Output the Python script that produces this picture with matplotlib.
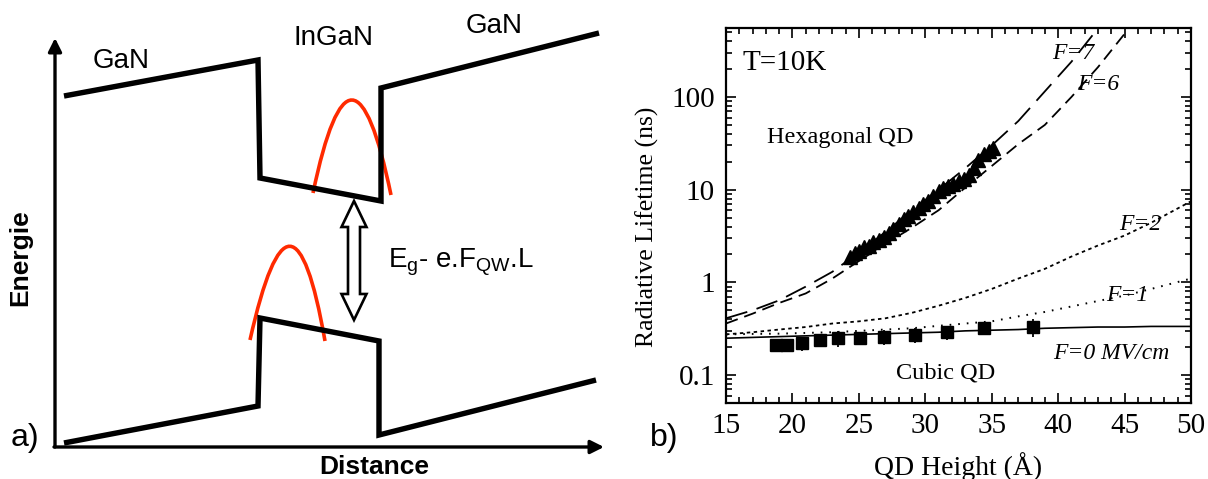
import matplotlib
matplotlib.use("Agg")
import matplotlib.pyplot as plt
from matplotlib.path import Path
from matplotlib.patches import PathPatch, Polygon
from matplotlib.ticker import MultipleLocator, LogLocator, NullFormatter

plt.rcParams['mathtext.fontset'] = 'custom'
plt.rcParams['mathtext.rm'] = 'Liberation Sans'
plt.rcParams['mathtext.it'] = 'Liberation Sans:italic'
plt.rcParams['lines.scale_dashes'] = False

# ---- panel a) : band diagram, in picture pixels (x right, y down) ----
cb_x = [64, 258, 260, 381, 381, 599]
cb_y = [96, 60, 178, 201, 88, 33]
vb_x = [64, 258, 260, 379, 379, 596]
vb_y = [443, 406, 318, 341, 435, 380]
# wavefunctions: start, control, end of a quadratic curve
elec_arc = [(313, 193), (352, 6), (391, 195)]
hole_arc = [(250, 340), (292, 152), (325, 341)]
# double arrow between the two levels: x, top tip, bottom tip
gap_arrow = (354, 201, 320)

# ---- panel b) : radiative lifetime vs QD height ----
height_grid = [15, 17, 19, 21, 23, 25, 27, 29, 31, 33, 35, 37, 39, 41, 43, 45, 47, 50]
tau_f0 = [0.25, 0.255, 0.26, 0.265, 0.27, 0.275, 0.28, 0.285, 0.29, 0.30, 0.305, 0.31, 0.32, 0.325, 0.33, 0.33, 0.335, 0.335]
tau_f1 = [0.275, 0.278, 0.28, 0.285, 0.29, 0.30, 0.31, 0.32, 0.34, 0.36, 0.38, 0.43, 0.48, 0.55, 0.63, 0.72, 0.85, 1.1]
tau_f2 = [0.275, 0.29, 0.31, 0.33, 0.36, 0.38, 0.41, 0.47, 0.56, 0.68, 0.85, 1.1, 1.4, 1.9, 2.5, 3.2, 4.4, 7.5]

h_f6 = [15, 17, 19, 21, 23, 25, 27, 29, 31, 33, 35, 37, 39, 41, 43, 45]
tau_f6 = [0.36, 0.46, 0.60, 0.76, 1.1, 1.7, 2.6, 3.9, 6.0, 10.5, 18, 31, 50, 100, 210, 480]
h_f7 = [15, 17, 19, 21, 23, 25, 27, 29, 31, 33, 35, 37, 39, 41, 43]
tau_f7 = [0.41, 0.50, 0.64, 0.90, 1.3, 2.1, 3.5, 6.0, 10, 17, 30, 55, 115, 240, 550]

hex_h = [24.3, 24.7, 25.0, 25.4, 25.8, 26.1, 26.5, 26.9, 27.3, 27.6, 28.0, 28.4, 28.7, 29.1, 29.5,
         29.8, 30.2, 30.6, 31.0, 31.3, 31.7, 32.1, 32.5, 32.9, 33.3, 33.7, 34.0, 34.4, 34.8, 35.1]
hex_tau = [1.9, 2.1, 2.2, 2.4, 2.5, 2.7, 2.9, 3.1, 3.4, 3.8, 4.3, 4.8, 5.2, 5.8, 6.3,
           7.0, 7.6, 8.5, 9.8, 10.5, 11.0, 11.5, 12.5, 13.0, 14.5, 17.0, 21.0, 24.0, 26.0, 28.0]

cub_h = [18.8, 19.6, 20.7, 22.1, 23.4, 25.1, 26.9, 29.2, 31.6, 34.4, 38.1]
cub_tau = [0.21, 0.21, 0.22, 0.24, 0.25, 0.25, 0.26, 0.27, 0.29, 0.32, 0.33]
cub_err = [0.03, 0.03, 0.04, 0.04, 0.05, 0.04, 0.05, 0.05, 0.05, 0.05, 0.07]

y_ticks = [0.1, 1, 10, 100]
y_ticklabels = ['0.1', '1', '10', '100']
x_ticks = [15, 20, 25, 30, 35, 40, 45, 50]

W, H = 1208, 479
fig = plt.figure(figsize=(W / 100, H / 100), dpi=100)

# ================= panel a =================
axa = fig.add_axes([0, 0, 604 / W, 1])
axa.set_xlim(0, 604)
axa.set_ylim(H, 0)
axa.axis('off')

arrow_kw = dict(arrowstyle='-|>', color='black', lw=2.4, mutation_scale=20, shrinkA=0, shrinkB=0)
axa.annotate('', xy=(55, 38), xytext=(55, 447), arrowprops=arrow_kw)
axa.annotate('', xy=(604, 447), xytext=(54, 447), arrowprops=arrow_kw)

axa.plot(cb_x, cb_y, color='black', lw=3.9, solid_joinstyle='miter', solid_capstyle='butt')
axa.plot(vb_x, vb_y, color='black', lw=3.9, solid_joinstyle='miter', solid_capstyle='butt')

for arc in (elec_arc, hole_arc):
    p = Path(arc, [Path.MOVETO, Path.CURVE3, Path.CURVE3])
    axa.add_patch(PathPatch(p, facecolor='none', edgecolor='#ff2a00', lw=2.6))

# hollow double arrow
ax_x, top, bot = gap_arrow
hw, sw, hl = 12.5, 6, 26
arrow_pts = [(ax_x, top), (ax_x + hw, top + hl), (ax_x + sw, top + hl), (ax_x + sw, bot - hl),
             (ax_x + hw, bot - hl), (ax_x, bot), (ax_x - hw, bot - hl), (ax_x - sw, bot - hl),
             (ax_x - sw, top + hl), (ax_x - hw, top + hl)]
axa.add_patch(Polygon(arrow_pts, closed=True, facecolor='white', edgecolor='black', lw=1.9,
                      joinstyle='miter'))

sans = 'Liberation Sans'
axa.text(121, 61, 'GaN', fontsize=20, family=sans, ha='center', va='center')
axa.text(333, 38, 'InGaN', fontsize=20, family=sans, ha='center', va='center')
axa.text(494, 26, 'GaN', fontsize=20, family=sans, ha='center', va='center')
axa.text(388, 262, r'E$_\mathrm{g}$- e.F$_\mathrm{QW}$.L', fontsize=20, family=sans,
         ha='left', va='center')
axa.text(20, 258, 'Energie', fontsize=19, family=sans, fontweight='bold', rotation=90,
         ha='center', va='center')
axa.text(374, 467, 'Distance', fontsize=19, family=sans, fontweight='bold',
         ha='center', va='center')
axa.text(25, 438, 'a)', fontsize=23, family=sans, ha='center', va='center')

# ================= panel b =================
serif = 'Liberation Serif'
axb = fig.add_axes([726 / W, 1 - 403 / H, 465 / W, 375 / H])
axb.set_yscale('log')
axb.set_xlim(15, 50)
axb.set_ylim(0.05, 555)

axb.plot(height_grid, tau_f0, color='black', lw=1.2)
axb.plot(height_grid, tau_f1, color='black', lw=1.4, linestyle=(0, (1.2, 5)))
axb.plot(height_grid, tau_f2, color='black', lw=1.3, linestyle=(0, (2.5, 2.5)))
axb.plot(h_f6, tau_f6, color='black', lw=1.3, linestyle=(0, (9, 5)))
axb.plot(h_f7, tau_f7, color='black', lw=1.3, linestyle=(0, (16, 7)))

axb.plot(hex_h, hex_tau, linestyle='none', marker='^', color='black', markersize=10)
axb.errorbar(cub_h, cub_tau, yerr=cub_err, fmt='s', color='black', markersize=8.5,
             elinewidth=1.3, capsize=0)

axb.set_xticks(x_ticks)
axb.xaxis.set_minor_locator(MultipleLocator(1))
axb.set_yticks(y_ticks)
axb.set_yticklabels(y_ticklabels)
axb.yaxis.set_minor_locator(LogLocator(base=10, subs=range(2, 10)))
axb.yaxis.set_minor_formatter(NullFormatter())
axb.tick_params(which='both', direction='in', top=True, right=True, width=1.2)
axb.tick_params(which='major', length=7)
axb.tick_params(which='minor', length=4)
axb.tick_params(axis='x', which='major', pad=7)
axb.tick_params(axis='y', which='major', pad=8)
for lab in axb.get_xticklabels() + axb.get_yticklabels():
    lab.set_fontfamily(serif)
    lab.set_fontsize(21)
for sp in axb.spines.values():
    sp.set_linewidth(1.6)

axb.set_ylabel('Radiative Lifetime (ns)', fontsize=18.5, family=serif)
axb.yaxis.set_label_coords(-0.145, 0.47)
axb.set_xlabel('QD Height (Å)', fontsize=20, family=serif)
axb.xaxis.set_label_coords(0.5, -0.13)

axb.text(19.4, 233, 'T=10K', fontsize=21, family=serif, ha='center', va='center')
axb.text(23.6, 37, 'Hexagonal QD', fontsize=17.5, family=serif, ha='center', va='center')
axb.text(31.5, 0.106, 'Cubic QD', fontsize=17.5, family=serif, ha='center', va='center')
flab = dict(fontsize=17, family=serif, style='italic', ha='center', va='center')
axb.text(44.0, 0.17, 'F=0 MV/cm', **flab)
axb.text(45.2, 0.73, 'F=1', **flab)
axb.text(46.2, 4.2, 'F=2', **flab)
axb.text(43.0, 135, 'F=6', **flab)
axb.text(41.1, 298, 'F=7', **flab)

fig.text(664 / W, 1 - 438 / H, 'b)', fontsize=23, family=sans, ha='center', va='center')

fig.savefig('out.png', dpi=100)
